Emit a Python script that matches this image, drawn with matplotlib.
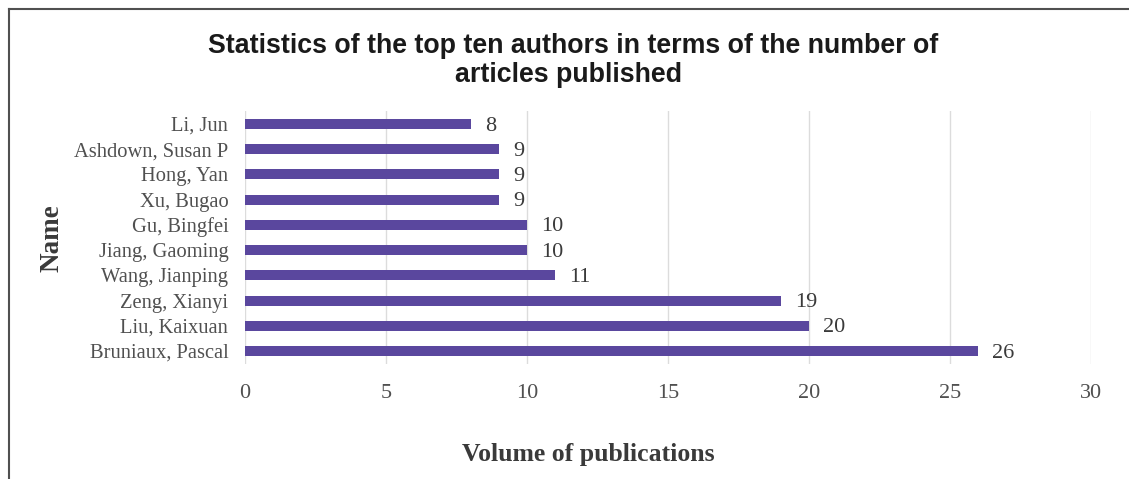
import matplotlib
matplotlib.use("Agg")
import matplotlib.pyplot as plt
from matplotlib.lines import Line2D

authors = ["Bruniaux, Pascal", "Liu, Kaixuan", "Zeng, Xianyi", "Wang, Jianping",
           "Jiang, Gaoming", "Gu, Bingfei", "Xu, Bugao", "Hong, Yan",
           "Ashdown, Susan P", "Li, Jun"]
counts = [26, 20, 19, 11, 10, 10, 9, 9, 9, 8]
xticks = [0, 5, 10, 15, 20, 25, 30]

W, H = 1129, 479
fig = plt.figure(figsize=(W / 100, H / 100), dpi=100)
ax = fig.add_axes([245 / W, 1 - 363.6 / H, 846 / W, 252.2 / H])

serif = "Liberation Serif"
grey = "#505050"

ax.barh(range(len(authors)), counts, height=0.4, color="#5a479e", zorder=3)
for i, v in enumerate(counts):
    ax.text(v + 0.5, i - 0.08, str(v), va="center", ha="left",
            fontfamily=serif, fontsize=16, color="#3a3a3a")

ax.set_xlim(0, 30)
ax.set_ylim(-0.5, len(authors) - 0.5)
ax.set_xticks(xticks)
ax.set_yticks(range(len(authors)))
ax.set_yticklabels(authors)
ax.tick_params(length=0, labelcolor=grey)
ax.tick_params(axis="x", pad=15, labelsize=16)
ax.tick_params(axis="y", pad=12, labelsize=14.8)
for lab in ax.get_xticklabels() + ax.get_yticklabels():
    lab.set_fontfamily(serif)
ax.grid(axis="x", color="#dcdcdc", linewidth=1, zorder=0)
for s in ax.spines.values():
    s.set_visible(False)

fig.text(52 / W, 1 - 238 / H, "Name", rotation=90, ha="center", va="center",
         fontfamily=serif, fontweight="bold", fontsize=19.5, color="#3a3a3a")
fig.text(588 / W, 1 - 455 / H, "Volume of publications", ha="center", va="center",
         fontfamily=serif, fontweight="bold", fontsize=18.5, color="#3a3a3a")

fig.text(573 / W, 1 - 46 / H, "Statistics of the top ten authors in terms of the number of",
         ha="center", va="center", fontfamily="Liberation Sans", fontweight="bold",
         fontsize=19.3, color="#1a1a1a")
fig.text(569 / W, 1 - 75 / H, "articles published",
         ha="center", va="center", fontfamily="Liberation Sans", fontweight="bold",
         fontsize=19.3, color="#1a1a1a")

# frame lines on the left and top
fig.add_artist(Line2D([8.5 / W, 8.5 / W], [0, 1 - 8.5 / H], color="#505050", linewidth=1.5))
fig.add_artist(Line2D([8.5 / W, 1], [1 - 8.5 / H, 1 - 8.5 / H], color="#505050", linewidth=1.5))

fig.savefig("out.png", dpi=100)
